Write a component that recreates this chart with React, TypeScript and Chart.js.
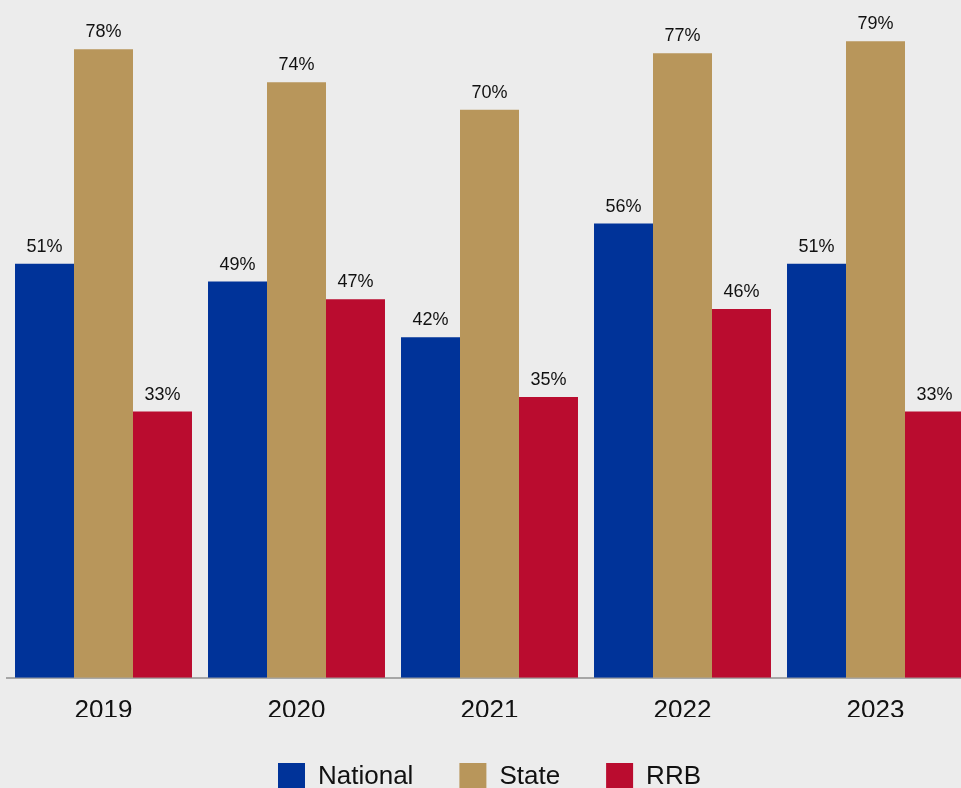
import React, { useEffect, useRef } from "react";
import { Chart, registerables } from "chart.js";

Chart.register(...registerables);

const years = ["2019", "2020", "2021", "2022", "2023"];
const nationalValues = [51.3, 49.1, 42.2, 56.3, 51.3];
const stateValues = [77.9, 73.8, 70.4, 77.4, 78.9];
const rrbValues = [33.0, 46.9, 34.8, 45.7, 33.0];
const seriesNames = ["National", "State", "RRB"];
const seriesColors = ["#003399", "#b8965b", "#ba0c2f"];

const FONT = "'Liberation Sans', Arial, sans-serif";
const W = 979;
const H = 800;

const valueLabels = {
  id: "valueLabels",
  afterDatasetsDraw(chart: any) {
    const ctx = chart.ctx;
    ctx.save();
    ctx.font = `18px ${FONT}`;
    ctx.fillStyle = "#111111";
    ctx.textAlign = "center";
    ctx.textBaseline = "alphabetic";
    chart.data.datasets.forEach((ds: any, i: number) => {
      const meta = chart.getDatasetMeta(i);
      meta.data.forEach((bar: any, j: number) => {
        const v = ds.data[j] as number;
        ctx.fillText(Math.round(v) + "%", bar.x, bar.y - 12);
      });
    });
    ctx.restore();
  },
};

export default function App() {
  const ref = useRef<HTMLCanvasElement>(null);
  useEffect(() => {
    document.body.style.margin = "0";
    document.body.style.overflow = "hidden";
    document.body.style.background = "#ececec";
    const chart = new Chart(ref.current!, {
      type: "bar",
      data: {
        labels: years,
        datasets: [nationalValues, stateValues, rrbValues].map((d, i) => ({
          label: seriesNames[i],
          data: d,
          backgroundColor: seriesColors[i],
          borderWidth: 0,
          barPercentage: 1,
          categoryPercentage: 0.917,
        })),
      },
      options: {
        animation: false,
        responsive: false,
        maintainAspectRatio: false,
        layout: { padding: { left: 7, right: 7, top: 0, bottom: 0 } },
        plugins: {
          legend: {
            position: "bottom",
            labels: {
              font: { family: FONT, size: 26 },
              color: "#111111",
              boxWidth: 27,
              boxHeight: 27,
              padding: 46,
            },
          },
          tooltip: { enabled: false },
        },
        scales: {
          x: {
            grid: { display: false },
            border: { display: true, color: "#a6a6a6", width: 2 },
            ticks: {
              font: { family: FONT, size: 26 },
              color: "#111111",
              padding: 9,
            },
            afterFit: (scale: any) => {
              scale.height = scale.height - 18;
            },
          },
          y: {
            display: false,
            min: 0,
            max: 84,
          },
        },
      },
      plugins: [valueLabels],
    });
    return () => chart.destroy();
  }, []);
  return (
    <div style={{ position: "absolute", left: 0, top: 0, width: W, height: H }}>
      <canvas ref={ref} width={W} height={H} style={{ display: "block", width: W, height: H }} />
    </div>
  );
}
